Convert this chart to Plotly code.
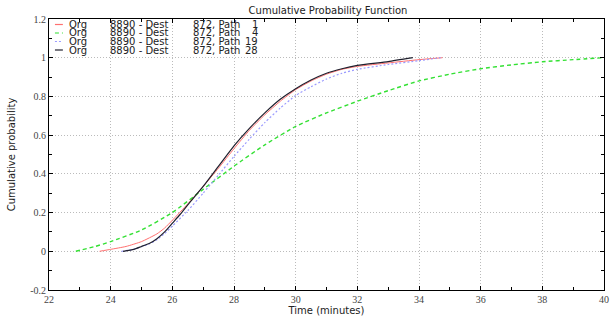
import plotly.graph_objects as go

# ---- data ----
path1_x = [23.64, 24.0, 24.5, 25.0, 25.5, 25.75, 26.0, 26.5, 27.0, 27.5, 28.0, 28.5, 29.0, 29.5, 30.0, 30.5, 31.0, 31.5, 32.0, 33.0, 34.0, 34.76]
path1_y = [0.0, 0.01, 0.025, 0.05, 0.09, 0.12, 0.16, 0.245, 0.335, 0.43, 0.53, 0.625, 0.705, 0.775, 0.835, 0.88, 0.915, 0.94, 0.955, 0.973, 0.99, 1.0]

path4_x = [22.87, 23.5, 24.0, 25.0, 26.0, 27.0, 28.0, 29.0, 30.0, 31.0, 32.0, 33.0, 34.0, 35.0, 36.0, 37.0, 38.0, 39.0, 40.0]
path4_y = [0.0, 0.025, 0.05, 0.11, 0.2, 0.32, 0.44, 0.55, 0.645, 0.715, 0.775, 0.83, 0.88, 0.915, 0.943, 0.963, 0.979, 0.99, 1.0]

path19_x = [24.35, 24.75, 25.0, 25.25, 25.5, 25.75, 26.0, 26.5, 27.0, 27.5, 28.0, 28.5, 29.0, 29.5, 30.0, 30.5, 31.0, 31.5, 32.0, 33.0, 34.0, 34.7]
path19_y = [0.0, 0.01, 0.024, 0.038, 0.06, 0.092, 0.13, 0.21, 0.3, 0.395, 0.49, 0.58, 0.665, 0.74, 0.805, 0.85, 0.89, 0.92, 0.94, 0.965, 0.985, 1.0]

path28_x = [24.4, 24.75, 25.0, 25.25, 25.5, 25.75, 26.0, 26.25, 26.5, 27.0, 27.5, 28.0, 28.5, 29.0, 29.5, 30.0, 30.5, 31.0, 31.5, 32.0, 33.0, 33.8]
path28_y = [0.0, 0.01, 0.025, 0.04, 0.065, 0.1, 0.145, 0.19, 0.24, 0.335, 0.44, 0.545, 0.635, 0.715, 0.785, 0.84, 0.885, 0.92, 0.943, 0.96, 0.98, 1.0]

legend_org = ["Org", "Org", "Org", "Org"]
legend_dest = ["8890 - Dest", "8890 - Dest", "8890 - Dest", "8890 - Dest"]
legend_path = ["872, Path", "872, Path", "872, Path", "872, Path"]
legend_num = ["1", "4", "19", "28"]

y_tickvals = [-0.2, 0, 0.2, 0.4, 0.6, 0.8, 1, 1.2]
y_ticktext = ["-0.2", "0", "0.2", "0.4", "0.6", "0.8", "1", "1.2"]
x_tickvals = [22, 24, 26, 28, 30, 32, 34, 36, 38, 40]

series = [
    (path1_x, path1_y, "#ff7070", "solid", 1.0),
    (path4_x, path4_y, "#33e033", "4px,3px", 1.4),
    (path19_x, path19_y, "#9a9aff", "2px,2px", 1.2),
    (path28_x, path28_y, "#20202e", "solid", 1.2),
]

fig = go.Figure()
for xs, ys, col, dash, w in series:
    fig.add_trace(go.Scatter(x=xs, y=ys, mode="lines",
                             line=dict(color=col, dash=dash, width=w, shape="spline", smoothing=0.5),
                             showlegend=False))

# legend drawn as annotations + line samples
row_y0 = 24.5
row_h = 8.5
for i in range(4):
    ypx = row_y0 + i * row_h
    yp = 1 - (ypx - 19) / (290 - 19)
    col = series[i][2]
    fig.add_shape(type="line", xref="paper", yref="paper",
                  x0=(55 - 49) / 560, x1=(63 - 49) / 560, y0=yp, y1=yp,
                  line=dict(color=col, width=1.2, dash=series[i][3]))
    for txt, xpx, anc in [(legend_org[i], 68, "left"), (legend_dest[i], 110, "left"),
                          (legend_path[i], 193, "left"), (legend_num[i], 261, "right")]:
        fig.add_annotation(text=txt, xref="paper", yref="paper", x=(xpx - 49) / 560, y=yp,
                           xanchor=anc, yanchor="middle", showarrow=False, borderpad=0,
                           font=dict(family="DejaVu Sans", size=10, color="#222"))

axis_common = dict(showline=True, linecolor="black", linewidth=1, mirror="ticks",
                   ticks="inside", ticklen=4, tickcolor="black",
                   showgrid=True, gridcolor="#bbbbbb", griddash="1px,2px", gridwidth=1,
                   zeroline=False, ticklabeloverflow="allow",
                   tickfont=dict(family="Liberation Serif", size=10, color="#444"),
                   title_font=dict(family="DejaVu Sans", size=10, color="#222"))

fig.update_xaxes(range=[22, 40], tickvals=x_tickvals, title_text="Time (minutes)", title_standoff=2,
                 minor=dict(dtick=1, tick0=22, ticks="inside", ticklen=3, tickcolor="black", showgrid=False),
                 **axis_common)
fig.update_yaxes(range=[-0.2, 1.2], tickvals=y_tickvals, ticktext=y_ticktext,
                 title_text="Cumulative probability", title_standoff=12,
                 minor=dict(dtick=0.1, tick0=0, ticks="inside", ticklen=3, tickcolor="black", showgrid=False),
                 **axis_common)

fig.update_layout(
    width=611, height=320,
    margin=dict(l=49, r=2, t=19, b=30),
    paper_bgcolor="white", plot_bgcolor="white",
    title=dict(text="Cumulative Probability Function", x=328 / 611, xanchor="center",
               y=1 - 10 / 320, yanchor="middle",
               font=dict(family="DejaVu Sans", size=10, color="#222")),
)

fig.write_html("out.html")
